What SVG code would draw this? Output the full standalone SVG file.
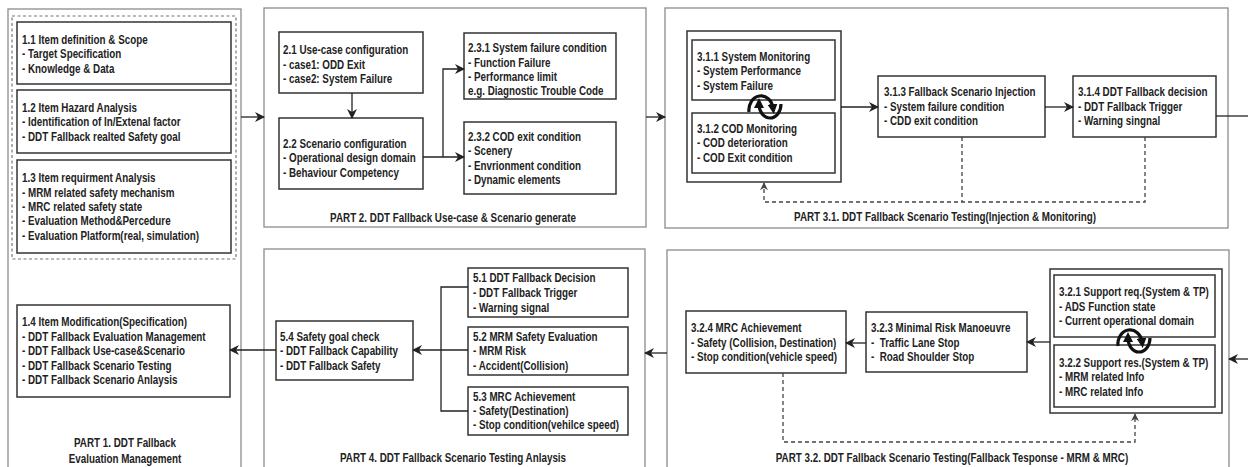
<svg xmlns="http://www.w3.org/2000/svg" xmlns:xlink="http://www.w3.org/1999/xlink" width="1248" height="467" viewBox="0 0 1248 467">
<style>
.part{fill:#fff;stroke:#8c8c8c;stroke-width:1.3}
.dpart{fill:none;stroke:#777;stroke-width:1.2;stroke-dasharray:3 2.5}
.box{fill:#fff;stroke:#333;stroke-width:1.5}
.t{font-family:'Liberation Sans',Arial,sans-serif;font-weight:bold;font-size:12px;fill:#222;white-space:pre}
.lbl{text-anchor:middle}
.conn{fill:none;stroke:#222;stroke-width:1.3}
.dash{fill:none;stroke:#444;stroke-width:1.3;stroke-dasharray:4 3}
.cyc{fill:none;stroke:#111;stroke-width:3.2}
</style>
<defs>
<marker id="ah" viewBox="0 0 10 10" refX="9" refY="5" markerWidth="10" markerHeight="10" markerUnits="userSpaceOnUse" orient="auto"><path d="M0,0 L10,5 L0,10 L3,5 z" fill="#222"/></marker>
<marker id="ahd" viewBox="0 0 10 10" refX="9" refY="5" markerWidth="8" markerHeight="8" markerUnits="userSpaceOnUse" orient="auto"><path d="M0,0 L10,5 L0,10 L3,5 z" fill="#444"/></marker>
<marker id="ahc" viewBox="0 0 10 10" refX="4" refY="5" markerWidth="10" markerHeight="10" markerUnits="userSpaceOnUse" orient="auto"><path d="M0,0 L10,5 L0,10 z" fill="#111"/></marker>
<g id="cyc">
<path class="cyc" d="M-15,5 A12,14 0 0 1 9,1" marker-end="url(#ahc)"/>
<path class="cyc" d="M17,-3 A11,14 0 0 1 -5,-3" marker-end="url(#ahc)"/>
</g>
</defs>
<rect width="1248" height="467" fill="#fff"/>

<g id="part1">
<rect class="part" x="8" y="9" width="233" height="470"/>
<rect class="dpart" x="12" y="16" width="224" height="243"/>
<text class="t lbl" transform="translate(125,447) scale(.82,1)">PART 1. DDT Fallback<tspan x="0" y="16">Evaluation Management</tspan></text>
</g>
<g id="n1-1">
<rect class="box" x="17" y="22" width="214" height="62"/>
<text class="t" transform="translate(22,44) scale(.82,1)">1.1 Item definition &amp; Scope<tspan x="0" y="14.5">- Target Specification</tspan><tspan x="0" y="29">- Knowledge &amp; Data</tspan></text>
</g>
<g id="n1-2">
<rect class="box" x="17" y="90" width="214" height="63"/>
<text class="t" transform="translate(22,112) scale(.82,1)">1.2 Item Hazard Analysis<tspan x="0" y="14">- Identification of In/Extenal factor</tspan><tspan x="0" y="29">- DDT Fallback realted Safety goal</tspan></text>
</g>
<g id="n1-3">
<rect class="box" x="17" y="160" width="214" height="93"/>
<text class="t" transform="translate(22,182) scale(.82,1)">1.3 Item requirment Analysis<tspan x="0" y="15">- MRM related safety mechanism</tspan><tspan x="0" y="29">- MRC related safety state</tspan><tspan x="0" y="43">- Evaluation Method&amp;Percedure</tspan><tspan x="0" y="58">- Evaluation Platform(real, simulation)</tspan></text>
</g>
<g id="n1-4">
<rect class="box" x="17" y="305" width="213" height="92"/>
<text class="t" transform="translate(22,326) scale(.82,1)">1.4 Item Modification(Specification)<tspan x="0" y="15">- DDT Fallback Evaluation Management</tspan><tspan x="0" y="29">- DDT Fallback Use-case&amp;Scenario</tspan><tspan x="0" y="44">- DDT Fallback Scenario Testing</tspan><tspan x="0" y="58">- DDT Fallback Scenario Anlaysis</tspan></text>
</g>

<g id="part2">
<rect class="part" x="264" y="8" width="382" height="219"/>
<text class="t lbl" transform="translate(453,222) scale(.82,1)">PART 2. DDT Fallback Use-case &amp; Scenario generate</text>
</g>
<g id="n2-1">
<rect class="box" x="279" y="32" width="144" height="61"/>
<text class="t" transform="translate(283,54) scale(.82,1)">2.1 Use-case configuration<tspan x="0" y="15">- case1: ODD Exit</tspan><tspan x="0" y="29">- case2: System Failure</tspan></text>
</g>
<g id="n2-2">
<rect class="box" x="279" y="118" width="144" height="71"/>
<text class="t" transform="translate(283,148) scale(.82,1)">2.2 Scenario configuration<tspan x="0" y="14">- Operational design domain</tspan><tspan x="0" y="29">- Behaviour Competency</tspan></text>
</g>
<g id="n2-3-1">
<rect class="box" x="464" y="33" width="152" height="66"/>
<text class="t" transform="translate(468,52) scale(.82,1)">2.3.1 System failure condition<tspan x="0" y="15">- Function Failure</tspan><tspan x="0" y="29">- Performance limit</tspan><tspan x="0" y="43">e.g. Diagnostic Trouble Code</tspan></text>
</g>
<g id="n2-3-2">
<rect class="box" x="464" y="122" width="152" height="72"/>
<text class="t" transform="translate(468,141) scale(.82,1)">2.3.2 COD exit condition<tspan x="0" y="14">- Scenery</tspan><tspan x="0" y="29">- Envrionment condition</tspan><tspan x="0" y="43">- Dynamic elements</tspan></text>
</g>

<g id="part3-1">
<rect class="part" x="665" y="8" width="563" height="220"/>
<text class="t lbl" transform="translate(945,221) scale(.82,1)">PART 3.1. DDT Fallback Scenario Testing(Injection &amp; Monitoring)</text>
</g>
<g id="monitoring">
<rect class="box" x="687" y="31" width="154" height="151"/>
</g>
<g id="n3-1-1">
<rect class="box" x="692" y="40" width="143" height="60"/>
<text class="t" transform="translate(697,61) scale(.82,1)">3.1.1 System Monitoring<tspan x="0" y="14">- System Performance</tspan><tspan x="0" y="29">- System Failure</tspan></text>
</g>
<g id="n3-1-2">
<rect class="box" x="692" y="113" width="143" height="60"/>
<text class="t" transform="translate(697,133) scale(.82,1)">3.1.2 COD Monitoring<tspan x="0" y="14.5">- COD deterioration</tspan><tspan x="0" y="29">- COD Exit condition</tspan></text>
</g>
<g id="n3-1-3">
<rect class="box" x="878" y="76" width="167" height="61"/>
<text class="t" transform="translate(884,96) scale(.82,1)">3.1.3 Fallback Scenario Injection<tspan x="0" y="15">- System failure condition</tspan><tspan x="0" y="29">- CDD exit condition</tspan></text>
</g>
<g id="n3-1-4">
<rect class="box" x="1073" y="76" width="143" height="61"/>
<text class="t" transform="translate(1078,96) scale(.82,1)">3.1.4 DDT Fallback decision<tspan x="0" y="15">- DDT Fallback Trigger</tspan><tspan x="0" y="29">- Warning singnal</tspan></text>
</g>

<g id="part4">
<rect class="part" x="264" y="249" width="381" height="230"/>
<text class="t lbl" transform="translate(453,462) scale(.82,1)">PART 4. DDT Fallback Scenario Testing Anlaysis</text>
</g>
<g id="n5-4">
<rect class="box" x="276" y="321" width="137" height="59"/>
<text class="t" transform="translate(280,341) scale(.82,1)">5.4 Safety goal check<tspan x="0" y="14">- DDT Fallback Capability</tspan><tspan x="0" y="29">- DDT Fallback Safety</tspan></text>
</g>
<g id="n5-1">
<rect class="box" x="468" y="268" width="160" height="49"/>
<text class="t" transform="translate(473,282) scale(.82,1)">5.1 DDT Fallback Decision<tspan x="0" y="15">- DDT Fallback Trigger</tspan><tspan x="0" y="30">- Warning signal</tspan></text>
</g>
<g id="n5-2">
<rect class="box" x="468" y="327" width="160" height="48"/>
<text class="t" transform="translate(473,341) scale(.82,1)">5.2 MRM Safety Evaluation<tspan x="0" y="14">- MRM Risk</tspan><tspan x="0" y="29">- Accident(Collision)</tspan></text>
</g>
<g id="n5-3">
<rect class="box" x="468" y="387" width="160" height="48"/>
<text class="t" transform="translate(473,401) scale(.82,1)">5.3 MRC Achievement<tspan x="0" y="14">- Safety(Destination)</tspan><tspan x="0" y="28">- Stop condition(vehilce speed)</tspan></text>
</g>

<g id="part3-2">
<rect class="part" x="667" y="250" width="562" height="229"/>
<text class="t lbl" transform="translate(952,462) scale(.82,1)">PART 3.2. DDT Fallback Scenario Testing(Fallback Tesponse - MRM &amp; MRC)</text>
</g>
<g id="n3-2-4">
<rect class="box" x="686" y="311" width="160" height="62"/>
<text class="t" transform="translate(691,332) scale(.82,1)">3.2.4 MRC Achievement<tspan x="0" y="15">- Safety (Collision, Destination)</tspan><tspan x="0" y="29">- Stop condition(vehicle speed)</tspan></text>
</g>
<g id="n3-2-3">
<rect class="box" x="866" y="312" width="161" height="60"/>
<text class="t" transform="translate(871,332) scale(.82,1)">3.2.3 Minimal Risk Manoeuvre<tspan x="0" y="15">-  Traffic Lane Stop</tspan><tspan x="0" y="29">-  Road Shoulder Stop</tspan></text>
</g>
<g id="support">
<rect class="box" x="1050" y="269" width="172" height="144"/>
</g>
<g id="n3-2-1">
<rect class="box" x="1054" y="275" width="161" height="62"/>
<text class="t" transform="translate(1059,296) scale(.82,1)">3.2.1 Support req.(System &amp; TP)<tspan x="0" y="15">- ADS Function state</tspan><tspan x="0" y="29">- Current operational domain</tspan></text>
</g>
<g id="n3-2-2">
<rect class="box" x="1054" y="345" width="161" height="62"/>
<text class="t" transform="translate(1059,367) scale(.82,1)">3.2.2 Support res.(System &amp; TP)<tspan x="0" y="14">- MRM related Info</tspan><tspan x="0" y="29">- MRC related Info</tspan></text>
</g>

<g id="connectors">
<path class="conn" d="M241,117 H264" marker-end="url(#ah)"/>
<path class="conn" d="M352,93 V118" marker-end="url(#ah)"/>
<path class="conn" d="M423,157 H464" marker-end="url(#ah)"/>
<path class="conn" d="M443,157 V69 H464" marker-end="url(#ah)"/>
<path class="conn" d="M646,117 H665" marker-end="url(#ah)"/>
<path class="conn" d="M841,107 H878" marker-end="url(#ah)"/>
<path class="conn" d="M1045,107 H1073" marker-end="url(#ah)"/>
<path class="conn" d="M1216,116 H1248"/>
<path class="conn" d="M1248,359 H1229" marker-end="url(#ah)"/>
<path class="conn" d="M1050,342 H1027" marker-end="url(#ah)"/>
<path class="conn" d="M866,343 H846" marker-end="url(#ah)"/>
<path class="conn" d="M667,353 H645" marker-end="url(#ah)"/>
<path class="conn" d="M468,287 H441 V411 H468"/>
<path class="conn" d="M468,350 H413" marker-end="url(#ah)"/>
<path class="conn" d="M276,350 H230" marker-end="url(#ah)"/>
<path class="dash" d="M962,137 V202"/>
<path class="dash" d="M1145,137 V202 H764 V183" marker-end="url(#ahd)"/>
<path class="dash" d="M783,373 V442 H1135 V414" marker-end="url(#ahd)"/>
<use xlink:href="#cyc" href="#cyc" x="764" y="107"/>
<use xlink:href="#cyc" href="#cyc" x="1133" y="341"/>
</g>
</svg>
